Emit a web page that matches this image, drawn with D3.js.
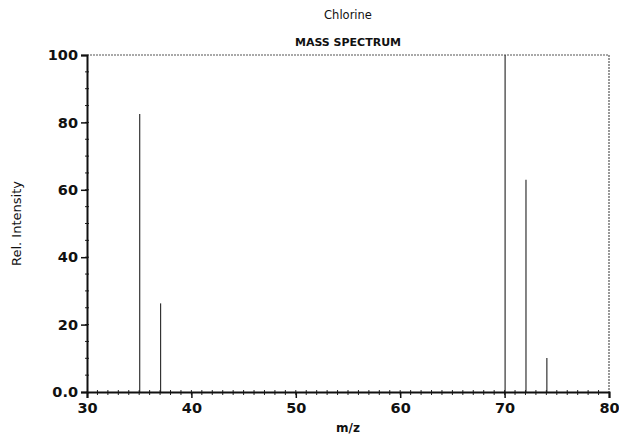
<!DOCTYPE html>
<meta charset="utf-8">
<style>
    body {
        margin: 0;
        padding: 0;
        background: #fff;
    }
    text {
        font-family: "DejaVu Sans", sans-serif;
        fill: #111;
    }
    .tick-label {
        font-size: 14.5px;
        font-weight: bold;
    }
</style>

<body>

<script src="https://d3js.org/d3.v7.min.js"></script>

<script>

var mz = [35, 37, 70, 72, 74];
var intensity = [82.5, 26.3, 100, 63, 10.1];
var xTicks = [30, 40, 50, 60, 70, 80];
var yTicks = [0, 20, 40, 60, 80, 100];

var width = 619,
  height = 435;

var pLeft = 87, pRight = 609, pTop = 55, pBottom = 392;

var svg = d3.select("body")
  .append("svg")
  .attr("width", width)
  .attr("height", height)
  .style("display", "block")

var x = d3.scaleLinear()
    .domain([30, 80])
    .range([pLeft, pRight])

var y = d3.scaleLinear()
    .domain([0, 100])
    .range([pBottom, pTop])

// frame top/right (thin, dotted look)
svg.append("path")
    .attr("d", "M" + pLeft + "," + pTop + "H" + pRight + "V" + pBottom)
    .attr("fill", "none")
    .attr("stroke", "#555")
    .attr("stroke-width", 1.2)
    .attr("stroke-dasharray", "2,1")

// peaks
svg.selectAll(".peak")
    .data(mz)
    .enter()
    .append("line")
    .attr("class", "peak")
    .attr("x1", d => x(d) + 0.5)
    .attr("x2", d => x(d) + 0.5)
    .attr("y1", y(0))
    .attr("y2", (d, i) => y(intensity[i]))
    .attr("stroke", "#333")
    .attr("stroke-width", 1.2)

// minor ticks
svg.selectAll(".xminor")
    .data(d3.range(31, 80))
    .enter()
    .append("line")
    .attr("x1", d => x(d))
    .attr("x2", d => x(d))
    .attr("y1", pBottom - 2)
    .attr("y2", pBottom + 3)
    .attr("stroke", "#222")

svg.selectAll(".yminor")
    .data(d3.range(5, 100, 5))
    .enter()
    .append("line")
    .attr("x1", pLeft - 2)
    .attr("x2", pLeft + 2)
    .attr("y1", d => y(d))
    .attr("y2", d => y(d))
    .attr("stroke", "#222")

// axes
var xAxis = svg.append("g")
    .attr("transform", "translate(0," + pBottom + ")")
    .call(d3.axisBottom(x).tickValues(xTicks).tickSize(6).tickPadding(5))

var yAxis = svg.append("g")
    .attr("transform", "translate(" + pLeft + ",0)")
    .call(d3.axisLeft(y).tickValues(yTicks).tickSize(6).tickPadding(3)
      .tickFormat(d => d == 0 ? "0.0" : d))

;[xAxis, yAxis].forEach(a => {
  a.select(".domain").attr("stroke", "#111").attr("stroke-width", 2)
  a.selectAll(".tick line").attr("stroke", "#111").attr("stroke-width", 1.5)
  a.selectAll(".tick text")
      .attr("class", "tick-label")
      .attr("fill", "#111")
      .style("font-family", "'DejaVu Sans', sans-serif")
})

// titles
svg.append("text")
    .attr("x", (pLeft + pRight) / 2)
    .attr("y", 19)
    .attr("text-anchor", "middle")
    .style("font-size", "11.5px")
    .text("Chlorine")

svg.append("text")
    .attr("x", (pLeft + pRight) / 2)
    .attr("y", 46)
    .attr("text-anchor", "middle")
    .style("font-size", "11px")
    .style("font-weight", "bold")
    .text("MASS SPECTRUM")

svg.append("text")
    .attr("x", (pLeft + pRight) / 2)
    .attr("y", 432)
    .attr("text-anchor", "middle")
    .style("font-size", "12px")
    .style("font-weight", "bold")
    .text("m/z")

svg.append("text")
    .attr("transform", "translate(21," + ((pTop + pBottom) / 2) + ") rotate(-90)")
    .attr("text-anchor", "middle")
    .style("font-size", "13px")
    .text("Rel. Intensity")

</script>
